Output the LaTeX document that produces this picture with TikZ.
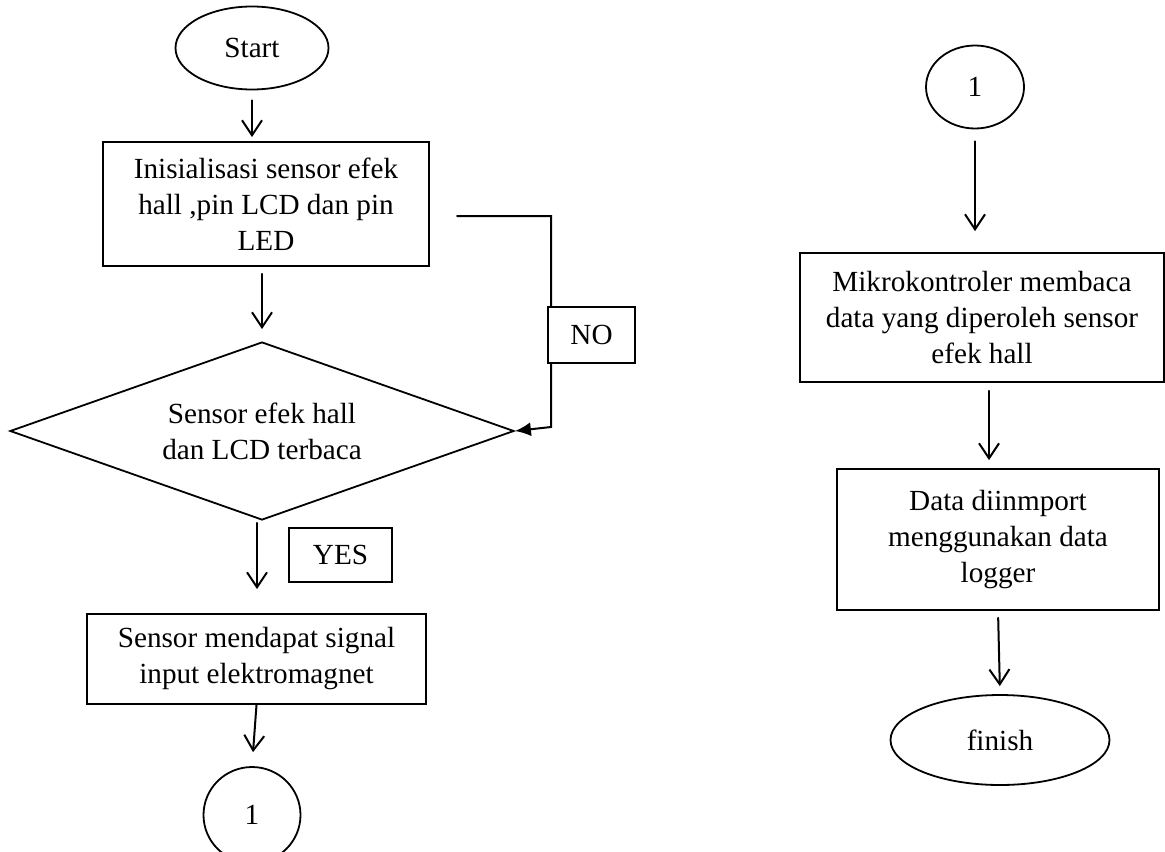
\documentclass[tikz,border=0pt]{standalone}
\usepackage{fontspec}
\setmainfont{Liberation Serif}
\usetikzlibrary{shapes.geometric,arrows.meta}
\tikzset{
  fLine/.style={line width=1pt,line cap=round},
  fArrow/.style={fLine,-{Straight Barb[length=7.5pt,width=10pt,line width=1pt]}},
  fArrowFill/.style={fLine,-{Latex[length=8pt,width=7pt]}},
  fBox/.style={draw,line width=0.9pt,align=center,inner sep=0pt,
        font=\fontsize{14.6pt}{18pt}\selectfont},
  fProc/.style={fBox,rectangle},
  fTerm/.style={fBox,ellipse},
  fDec/.style={fBox,diamond,shape aspect=2.83},
  fTag/.style={fBox,rectangle,fill=white},
}
\begin{document}
\begin{tikzpicture}[x=0.5pt,y=-0.5pt]
\useasboundingbox (0,0) rectangle (1165,851);
% left column
\node[fTerm,minimum width=76.5pt,minimum height=41.5pt] (start) at (252,48) {Start};
\node[fProc,minimum width=163pt,minimum height=62pt] (init) at (266,204)
    {Inisialisasi sensor efek\\hall ,pin LCD dan pin\\LED};
\node[fDec,minimum width=252pt,minimum height=89pt] (dec) at (262,431)
    {Sensor efek hall\\dan LCD terbaca};
\node[fTag,minimum width=51.5pt,minimum height=27pt] (yes) at (340.5,555) {YES};
\node[fProc,minimum width=169.5pt,minimum height=45pt] (sense) at (256.5,659)
    {Sensor mendapat signal\\input elektromagnet};
\node[fTerm,minimum width=48.5pt,minimum height=48pt] (conA) at (252,815) {1};
% right column
\node[fTerm,minimum width=49pt,minimum height=41.5pt] (conB) at (975,87) {1};
\node[fProc,minimum width=182pt,minimum height=64.5pt] (read) at (982,317.5)
    {Mikrokontroler membaca\\data yang diperoleh sensor\\efek hall};
\node[fProc,minimum width=161pt,minimum height=70.5pt] (import) at (998,539.5)
    {Data diinmport\\menggunakan data\\logger};
\node[fTerm,minimum width=109.5pt,minimum height=45pt] (finish) at (1000,740) {finish};

\draw[fArrow,shorten <=5pt,shorten >=2pt] (start.south) -- (start.south |- init.north);
\draw[fArrow,shorten <=3.5pt,shorten >=6pt] (dec.north |- init.south) -- (dec.north);
\draw[fArrow,shorten <=1pt,shorten >=12pt] ([xshift=-2.5pt]dec.south) -- ([xshift=-2.5pt]dec.south |- sense.north);
\draw[fArrow,shorten >=7pt] (sense.south) -- (conA.north);
\draw[fArrow,shorten <=6pt,shorten >=10.5pt] (conB.south) -- (conB.south |- read.north);
\draw[fArrow,shorten <=4pt,shorten >=4pt] ([xshift=3.5pt]read.south) -- ([xshift=3.5pt]read.south |- import.north);
\draw[fArrow,shorten <=3.5pt,shorten >=4pt] (import.south) -- (finish.north);

% NO loop back into the decision
\coordinate (noStart) at (457,216);
\coordinate (noTurn) at (551,427);
\draw[fArrowFill] (noStart) -| (noTurn) -- (dec.east);
\node[fTag,minimum width=43.5pt,minimum height=28pt] (no) at (591.5,335) {NO};
\end{tikzpicture}
\end{document}
